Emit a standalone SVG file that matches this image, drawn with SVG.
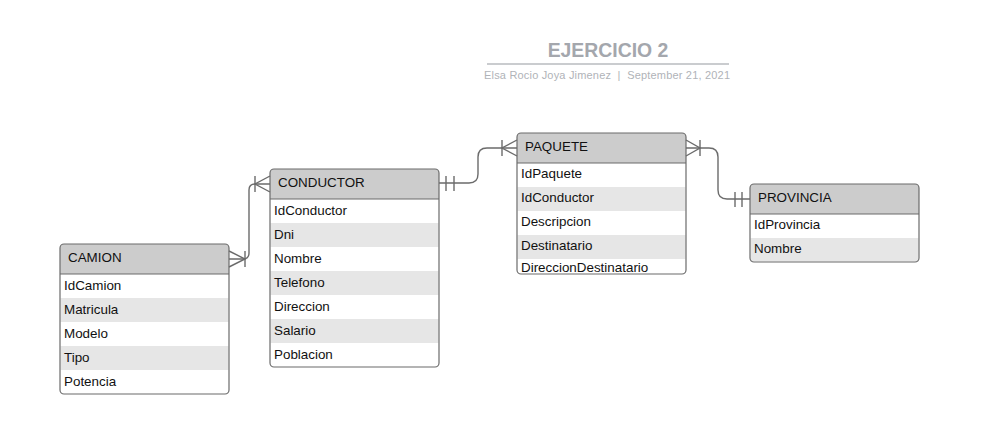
<svg xmlns="http://www.w3.org/2000/svg" width="985" height="429" viewBox="0 0 985 429">
<style>
.hdr{fill:#cccccc}
.alt{fill:#e6e6e6}
.box{fill:none;stroke:#6b6b6b;stroke-width:1.2}
.sep{stroke:#6b6b6b;stroke-width:1}
.ht{font-family:"Liberation Sans",Arial,sans-serif;font-size:13.4px;fill:#111111}
.rt{font-family:"Liberation Sans",Arial,sans-serif;font-size:13.4px;fill:#111111}
.conn path,.conn line{fill:none;stroke:#6b6b6b;stroke-width:1.4}
</style>
<rect width="985" height="429" fill="#ffffff"/>
<g id="title">
<text x="608" y="57" text-anchor="middle" font-family="Liberation Sans,Arial,sans-serif" font-size="19.4" font-weight="bold" fill="#a4a7ad">EJERCICIO 2</text>
<line x1="487" y1="64" x2="729" y2="64" stroke="#b9bbbf" stroke-width="1.5"/>
<text x="607" y="79" text-anchor="middle" font-family="Liberation Sans,Arial,sans-serif" font-size="11" fill="#b0b3b8" textLength="246">Elsa Rocio Joya Jimenez&#160;&#160;|&#160;&#160;September 21, 2021</text>
</g>
<g id="camion">
<rect x="60" y="244" width="169" height="150" rx="4" fill="#ffffff"/>
<path class="hdr" d="M60,274 V248 Q60,244 64,244 H225 Q229,244 229,248 V274 Z"/>
<rect class="alt" x="60.5" y="298" width="168" height="24"/>
<rect class="alt" x="60.5" y="346" width="168" height="24"/>
<line class="sep" x1="60" y1="274" x2="229" y2="274"/>
<rect class="box" x="60" y="244" width="169" height="150" rx="4"/>
<text class="ht" x="68" y="262">CAMION</text>
<text class="rt" x="64" y="290">IdCamion</text>
<text class="rt" x="64" y="314">Matricula</text>
<text class="rt" x="64" y="338">Modelo</text>
<text class="rt" x="64" y="362">Tipo</text>
<text class="rt" x="64" y="386">Potencia</text>
</g>
<g id="conductor">
<rect x="270" y="169" width="169" height="198" rx="4" fill="#ffffff"/>
<path class="hdr" d="M270,199 V173 Q270,169 274,169 H435 Q439,169 439,173 V199 Z"/>
<rect class="alt" x="270.5" y="223" width="168" height="24"/>
<rect class="alt" x="270.5" y="271" width="168" height="24"/>
<rect class="alt" x="270.5" y="319" width="168" height="24"/>
<line class="sep" x1="270" y1="199" x2="439" y2="199"/>
<rect class="box" x="270" y="169" width="169" height="198" rx="4"/>
<text class="ht" x="278" y="187">CONDUCTOR</text>
<text class="rt" x="274" y="215">IdConductor</text>
<text class="rt" x="274" y="239">Dni</text>
<text class="rt" x="274" y="263">Nombre</text>
<text class="rt" x="274" y="287">Telefono</text>
<text class="rt" x="274" y="311">Direccion</text>
<text class="rt" x="274" y="335">Salario</text>
<text class="rt" x="274" y="359">Poblacion</text>
</g>
<g id="paquete">
<rect x="517" y="133" width="169" height="141" rx="4" fill="#ffffff"/>
<path class="hdr" d="M517,163 V137 Q517,133 521,133 H682 Q686,133 686,137 V163 Z"/>
<rect class="alt" x="517.5" y="187" width="168" height="24"/>
<rect class="alt" x="517.5" y="235" width="168" height="24"/>
<line class="sep" x1="517" y1="163" x2="686" y2="163"/>
<rect class="box" x="517" y="133" width="169" height="141" rx="4"/>
<text class="ht" x="525" y="151">PAQUETE</text>
<text class="rt" x="521" y="178">IdPaquete</text>
<text class="rt" x="521" y="202">IdConductor</text>
<text class="rt" x="521" y="226">Descripcion</text>
<text class="rt" x="521" y="250">Destinatario</text>
<text class="rt" x="521" y="272">DireccionDestinatario</text>
</g>
<g id="provincia">
<rect x="750" y="184" width="169" height="78" rx="4" fill="#ffffff"/>
<path class="hdr" d="M750,214 V188 Q750,184 754,184 H915 Q919,184 919,188 V214 Z"/>
<rect class="alt" x="750.5" y="238" width="168" height="23.5"/>
<line class="sep" x1="750" y1="214" x2="919" y2="214"/>
<rect class="box" x="750" y="184" width="169" height="78" rx="4"/>
<text class="ht" x="758" y="202">PROVINCIA</text>
<text class="rt" x="754" y="229">IdProvincia</text>
<text class="rt" x="754" y="253">Nombre</text>
</g>
<g class="conn" id="connectors">
<path d="M229,259 H243 Q249,259 249,253 V190 Q249,184 255,184 H270"/>
<path d="M229,251 L245,259 L229,267"/>
<line x1="245" y1="251" x2="245" y2="267"/>
<path d="M270,176 L255,184 L270,192"/>
<line x1="255" y1="176" x2="255" y2="192"/>
<path d="M439,183 H469 Q478,183 478,174 V157 Q478,148 487,148 H517"/>
<line x1="446" y1="176" x2="446" y2="191"/>
<line x1="454" y1="176" x2="454" y2="191"/>
<path d="M517,140 L502,148 L517,156"/>
<line x1="502" y1="140" x2="502" y2="156"/>
<path d="M686,148 H709 Q718,148 718,157 V190 Q718,199 727,199 H750"/>
<path d="M686,140 L700,148 L686,156"/>
<line x1="700" y1="140" x2="700" y2="156"/>
<line x1="735" y1="192" x2="735" y2="207"/>
<line x1="742" y1="192" x2="742" y2="207"/>
</g>
</svg>
